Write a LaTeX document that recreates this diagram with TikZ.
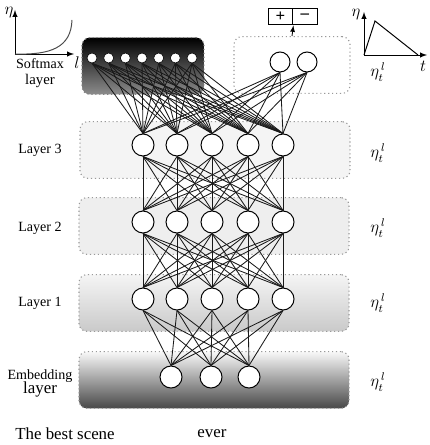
\documentclass[tikz,border=0pt]{standalone}
\usepackage{fontspec}
\setmainfont{Liberation Serif}
\usetikzlibrary{arrows}

\tikzset{
  neuron/.style={draw, circle, fill=white, line width=0.7pt, minimum size=0.55cm, inner sep=0pt},
  dot/.style={draw, circle, fill=white, minimum size=0.25cm, inner sep=0pt},
  layerbox/.style={draw=gray!80, dotted, thick, rounded corners=0.2cm, minimum width=6.75cm, minimum height=1.42cm},
  lbl/.style={font=\fontsize{10}{12}\selectfont, align=center},
  rate/.style={font=\large},
  link/.style={line width=0.6pt, black!90},
  axis/.style={line width=0.7pt, -latex}
}

\begin{document}
\begin{tikzpicture}[x=0.025cm, y=-0.025cm]
\useasboundingbox (0,0) rectangle (429,445);

% boxes
\node (soft) [layerbox, minimum width=3.05cm, draw=gray, top color=black, bottom color=black!45] at (143,66) {};
\node (outbox) [layerbox, minimum width=2.9cm, fill=white] at (292,65) {};
\node (box3) [layerbox, fill=gray!9] at (215,150) {};
\node (box2) [layerbox, fill=gray!13] at (214,226) {};
\node (box1) [layerbox, top color=gray!8, bottom color=gray!42] at (214,303) {};
\node (boxe) [layerbox, top color=gray!5, bottom color=black!72] at (214,380) {};

% neurons
\foreach \i in {1,...,7}
  \node (s\i) [dot] at ({92+(\i-1)*16.67},58) {};
\node (o1) [neuron, minimum size=0.5cm] at (280,62) {};
\node (o2) [neuron, minimum size=0.5cm] at (307,62) {};
\foreach \i/\x in {1/143,2/177,3/212,4/248,5/283} {
  \node (a\i) [neuron] at (\x,145) {};
  \node (b\i) [neuron] at (\x,222) {};
  \node (c\i) [neuron] at (\x,299) {};
}
\node (e1) [neuron] at (171,377) {};
\node (e2) [neuron] at (211,377) {};
\node (e3) [neuron] at (249,377) {};

% connections
\foreach \j in {1,...,5} {
  \foreach \i in {1,...,7}
    \draw[link] (s\i.south) -- (a\j.north);
  \foreach \i in {1,2}
    \draw[link] (o\i.south) -- (a\j.north);
  \foreach \i in {1,...,5} {
    \draw[link] (a\i.south) -- (b\j.north);
    \draw[link] (b\i.south) -- (c\j.north);
  }
  \foreach \i in {1,2,3}
    \draw[link] (c\j.south) -- (e\i.north);
}

% sign box
\node (plus) [draw, line width=0.7pt, minimum width=0.62cm, minimum height=0.42cm, inner sep=0pt] at (280.5,16.5) {\large\textbf{+}};
\node (minus) [draw, line width=0.7pt, minimum width=0.62cm, minimum height=0.42cm, inner sep=0pt] at (305,16.5) {\large\textbf{--}};
\draw[-latex, line width=0.6pt] (outbox.north) -- (plus.south east);

% left plot
\coordinate (lo) at (15,54);
\draw[axis] (lo) -- (15,10);
\draw[axis] (lo) -- (74,54);
\draw[line width=0.7pt, gray!60!black] (lo) .. controls (50,55) and (71,48) .. (72,20);
\node (leta) [rate] at (9,13) {$\eta$};
\node (ll) [rate] at (77,63) {$l$};

% right plot
\coordinate (ro) at (364,55);
\draw[axis] (ro) -- (364,12);
\draw[axis] (ro) -- (427,55);
\draw[line width=0.7pt] (ro) -- (375,21) -- (418,55);
\node (reta) [rate] at (356,15) {$\eta$};
\node (rt) [rate] at (423,66) {$t$};
\node (rlr) [rate] at (378,72) {$\eta_t^{\,l}$};

% labels
\node (lsoft) [lbl] at (40,73) {Softmax\\[-1pt]\fontsize{10.5}{12}\selectfont layer};
\node (l3) [lbl] at (40,150) {Layer 3};
\node (l2) [lbl] at (40,228) {Layer 2};
\node (l1) [lbl] at (40,303) {Layer 1};
\node (le) [lbl] at (40,383) {Embedding\\[-2pt]\fontsize{12}{14}\selectfont layer};
\node (r3) [rate] at (378,153) {$\eta_t^{\,l}$};
\node (r2) [rate] at (378,228) {$\eta_t^{\,l}$};
\node (r1) [rate] at (378,303) {$\eta_t^{\,l}$};
\node (re) [rate] at (378,382) {$\eta_t^{\,l}$};
\node (w1) [font=\fontsize{12}{14}\selectfont] at (65,434) {The best scene};
\node (w2) [font=\fontsize{12}{14}\selectfont] at (212,434) {ever};

\end{tikzpicture}
\end{document}
